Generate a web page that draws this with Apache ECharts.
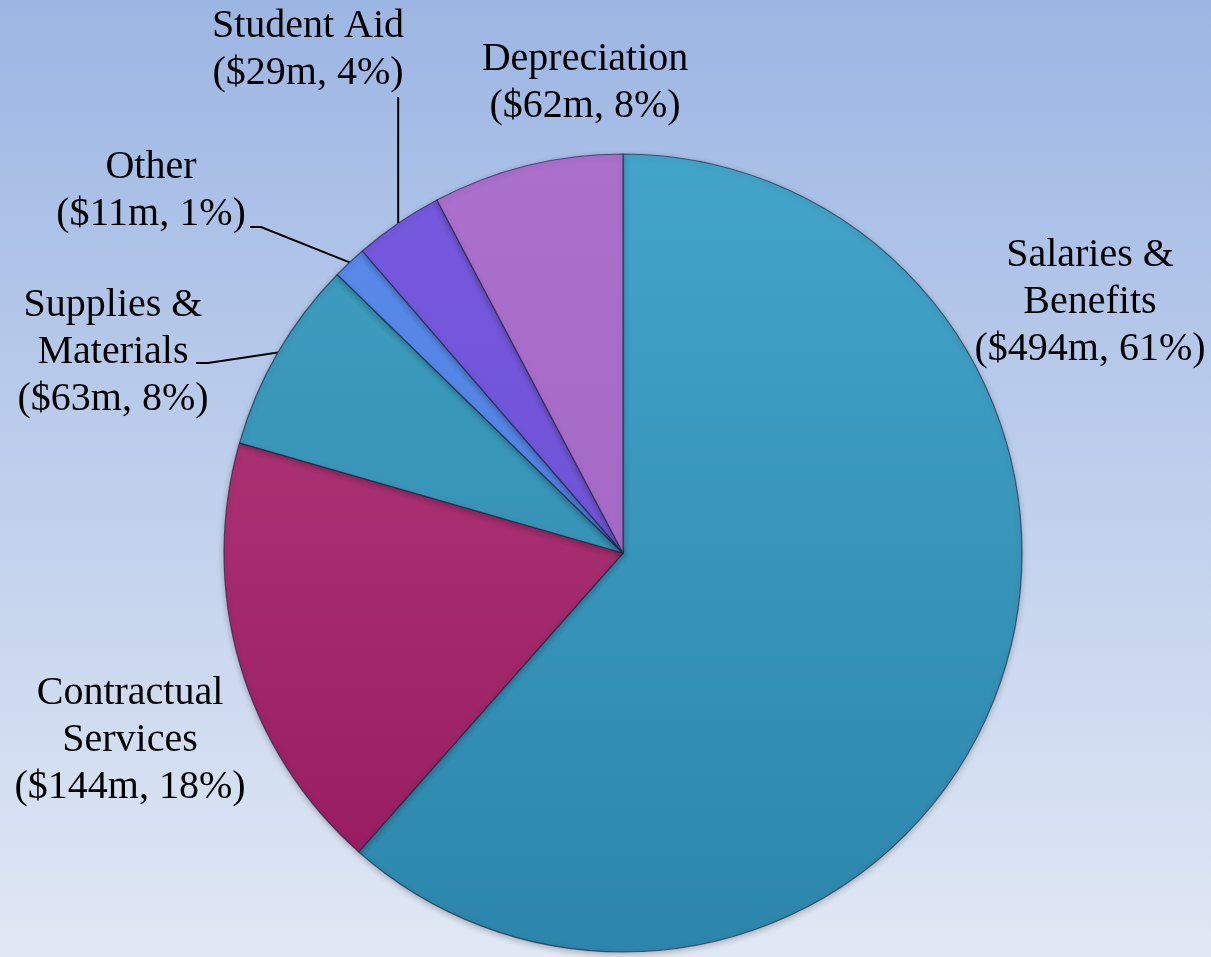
<!DOCTYPE html>
<html lang="en">
<head>
    <meta charset="UTF-8">
    <title>Expenses</title>
    <script type="text/javascript" src="https://cdn.jsdelivr.net/npm/echarts@6/dist/echarts.min.js"></script>
    <style>
        html, body {margin: 0; padding: 0;}
    </style>
</head>
<body>
<div id="pie" style="width: 1211px;height: 957px"></div>
</body>
</html>
<script type="text/javascript">
    // values, in $m, clockwise from 12 o'clock
    var categories = ['Salaries &\nBenefits', 'Contractual\nServices', 'Supplies &\nMaterials', 'Other', 'Student Aid', 'Depreciation'];
    var amounts = [494, 144, 63, 11, 29, 62];

    var topColors = ['#43a4c9', '#b5407e', '#3f9fc1', '#5a8cec', '#7659de', '#ab6fcc'];
    var bottomColors = ['#2c86ab', '#95185e', '#2d88ac', '#4877d8', '#6a4fcf', '#9f66bf'];
    var withLine = {'Supplies &\nMaterials': 1, 'Other': 1, 'Student Aid': 1};

    // where each label sits (centre of the text block)
    var labelSpot = [
        [1090, 302],
        [130, 740],
        [113, 352],
        [151, 191],
        [308, 50],
        [585, 83]
    ];

    var data = categories.map(function (name, i) {
        return {
            name: name,
            value: amounts[i],
            itemStyle: {
                color: {
                    type: 'linear', x: 0, y: 154, x2: 0, y2: 952, global: true,
                    colorStops: [{offset: 0, color: topColors[i]}, {offset: 1, color: bottomColors[i]}]
                }
            },
            labelLine: {show: !!withLine[name]}
        };
    });

    var myChart = echarts.init(document.getElementById('pie'));
    var option = {
        backgroundColor: {
            type: 'linear', x: 0, y: 0, x2: 0, y2: 1,
            colorStops: [{offset: 0, color: '#9cb6e3'}, {offset: 1, color: '#e1e8f5'}]
        },
        animation: false,
        series: [
            {
                type: 'pie',
                center: [623, 553],
                radius: 399,
                startAngle: 90,
                clockwise: true,
                percentPrecision: 0,
                avoidLabelOverlap: false,
                itemStyle: {
                    borderColor: 'rgba(25, 35, 60, 0.65)',
                    borderWidth: 1.2,
                    shadowBlur: 6,
                    shadowColor: 'rgba(0, 0, 0, 0.25)',
                    shadowOffsetY: 2
                },
                label: {
                    show: true,
                    position: 'outside',
                    formatter: '{b}\n(${c}m, {d}%)',
                    fontFamily: '"Liberation Serif", "Times New Roman", "DejaVu Serif", serif',
                    fontSize: 40,
                    lineHeight: 47,
                    color: '#000',
                    align: 'center'
                },
                labelLine: {
                    lineStyle: {color: '#000', width: 2}
                },
                labelLayout: function (params) {
                    var i = params.dataIndex;
                    var x = labelSpot[i][0], y = labelSpot[i][1];
                    var res = {x: x, y: y, align: 'center', verticalAlign: 'middle'};
                    var pts = params.labelLinePoints;
                    if (pts && pts.length) {
                        var p0 = pts[0];
                        if (i === 4) {
                            res.labelLinePoints = [p0, [p0[0], y + 47], [p0[0], y + 47]];
                        } else if (i === 3) {
                            res.labelLinePoints = [p0, [x + 110, y + 36], [x + 99, y + 36]];
                        } else if (i === 2) {
                            res.labelLinePoints = [p0, [x + 95, y + 11], [x + 83, y + 11]];
                        }
                    }
                    return res;
                },
                data: data
            }
        ]
    };
    myChart.setOption(option);
</script>
